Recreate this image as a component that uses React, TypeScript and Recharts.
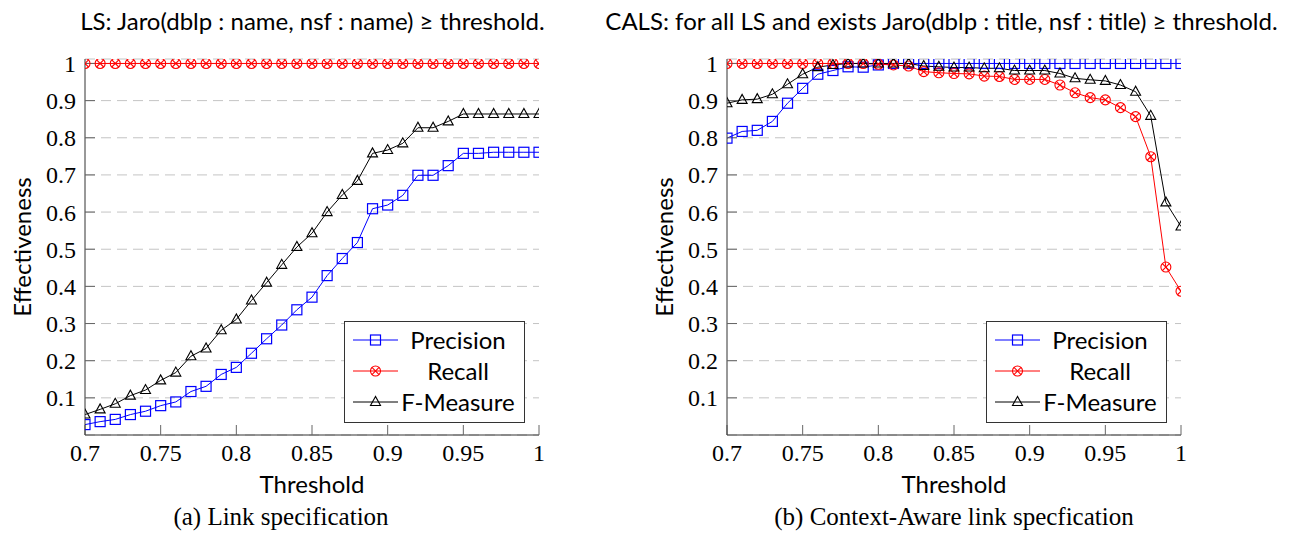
import React from 'react';
import { LineChart, Line, XAxis, YAxis, CartesianGrid, Legend } from 'recharts';

const thresholds = [0.70, 0.71, 0.72, 0.73, 0.74, 0.75, 0.76, 0.77, 0.78, 0.79, 0.80, 0.81, 0.82, 0.83, 0.84, 0.85, 0.86, 0.87, 0.88, 0.89, 0.90, 0.91, 0.92, 0.93, 0.94, 0.95, 0.96, 0.97, 0.98, 0.99, 1.00];

const lsPrecision = [0.028, 0.036, 0.042, 0.055, 0.064, 0.079, 0.089, 0.117, 0.131, 0.163, 0.182, 0.220, 0.259, 0.296, 0.337, 0.371, 0.429, 0.475, 0.518, 0.609, 0.619, 0.645, 0.699, 0.699, 0.725, 0.758, 0.758, 0.761, 0.761, 0.761, 0.761];
const lsRecall = [1, 1, 1, 1, 1, 1, 1, 1, 1, 1, 1, 1, 1, 1, 1, 1, 1, 1, 1, 1, 1, 1, 1, 1, 1, 1, 1, 1, 1, 1, 1];
const lsFMeasure = [0.055, 0.069, 0.084, 0.106, 0.121, 0.147, 0.168, 0.212, 0.233, 0.282, 0.311, 0.362, 0.410, 0.458, 0.506, 0.543, 0.600, 0.646, 0.684, 0.758, 0.767, 0.785, 0.827, 0.827, 0.844, 0.864, 0.864, 0.864, 0.864, 0.864, 0.864];

const calsPrecision = [0.799, 0.817, 0.820, 0.844, 0.893, 0.933, 0.971, 0.981, 0.991, 0.990, 0.996, 1, 1, 1, 1, 1, 1, 1, 1, 1, 1, 1, 1, 1, 1, 1, 1, 1, 1, 1, 1];
const calsRecall = [1, 1, 1, 1, 1, 1, 1, 1, 1, 1, 0.998, 0.996, 0.993, 0.978, 0.975, 0.973, 0.972, 0.966, 0.965, 0.957, 0.957, 0.957, 0.942, 0.921, 0.908, 0.902, 0.881, 0.857, 0.749, 0.452, 0.387];
const calsFMeasure = [0.893, 0.902, 0.904, 0.917, 0.944, 0.971, 0.990, 0.996, 1, 1, 1, 1, 1, 0.993, 0.991, 0.989, 0.989, 0.987, 0.987, 0.981, 0.981, 0.981, 0.973, 0.960, 0.956, 0.953, 0.942, 0.924, 0.859, 0.626, 0.561];

const xTicks = [0.7, 0.75, 0.8, 0.85, 0.9, 0.95, 1];
const yTicks = [0.1, 0.2, 0.3, 0.4, 0.5, 0.6, 0.7, 0.8, 0.9, 1];

const seriesNames = ['Precision', 'Recall', 'F-Measure'];
const panelTitles = [
  'LS: Jaro(dblp : name, nsf : name) \u2265 threshold.',
  'CALS: for all LS and exists Jaro(dblp : title, nsf : title) \u2265 threshold.',
];
const panelCaptions = ['(a) Link specification', '(b) Context-Aware link specfication'];
const xLabel = 'Threshold';
const yLabel = 'Effectiveness';

const BLUE = '#0000ff';
const RED = '#ff0000';
const BLACK = '#000000';
const FRAME = '#333333';
const SANS = 'Lato, "Open Sans", sans-serif';
const SERIF = '"Liberation Serif", "DejaVu Serif", serif';

const buildData = (p: number[], r: number[], f: number[]) =>
  thresholds.map((t, i) => ({ t, precision: p[i], recall: r[i], fmeasure: f[i] }));

const lsData = buildData(lsPrecision, lsRecall, lsFMeasure);
const calsData = buildData(calsPrecision, calsRecall, calsFMeasure);

const SquareMark = ({ cx, cy }: { cx: number; cy: number }) => (
  <rect x={cx - 5} y={cy - 5} width={10} height={10} fill="none" stroke={BLUE} strokeWidth={1.2} />
);
const OtimesMark = ({ cx, cy }: { cx: number; cy: number }) => {
  const r = 5;
  const d = r * 0.7071;
  return (
    <g stroke={RED} strokeWidth={1.1} fill="none">
      <circle cx={cx} cy={cy} r={r} />
      <line x1={cx - d} y1={cy - d} x2={cx + d} y2={cy + d} />
      <line x1={cx - d} y1={cy + d} x2={cx + d} y2={cy - d} />
    </g>
  );
};
const TriMark = ({ cx, cy }: { cx: number; cy: number }) => (
  <polygon
    points={`${cx},${cy - 5.5} ${cx - 5},${cy + 3.5} ${cx + 5},${cy + 3.5}`}
    fill="none"
    stroke={BLACK}
    strokeWidth={1.1}
  />
);

const legendItems = [
  { label: seriesNames[0], color: BLUE, Mark: SquareMark },
  { label: seriesNames[1], color: RED, Mark: OtimesMark },
  { label: seriesNames[2], color: BLACK, Mark: TriMark },
];

const LegendBox = () => (
  <div style={{ width: 181, height: 102, border: `1px solid ${FRAME}`, background: '#fff', boxSizing: 'border-box' }}>
    <svg width={179} height={100} style={{ display: 'block' }}>
      {legendItems.map((it, i) => {
        const y = 18 + i * 31;
        const M = it.Mark;
        return (
          <g key={it.label}>
            <line x1={8} x2={53} y1={y} y2={y} stroke={it.color} strokeWidth={1} />
            <M cx={30.5} cy={y} />
            <text x={113} y={y + 8.5} textAnchor="middle" fontFamily={SANS} fontSize={24} fill="#000">
              {it.label}
            </text>
          </g>
        );
      })}
    </svg>
  </div>
);

type PanelProps = {
  data: typeof lsData;
  left: number;
  width: number;
  marginLeft: number;
  marginRight: number;
  legendLeft: number;
};

const tickFont = { fontFamily: SERIF, fontSize: 24, fill: '#000' };

const Panel = ({ data, left, width, marginLeft, marginRight, legendLeft }: PanelProps) => (
  <div style={{ position: 'absolute', left, top: 0, width, height: 533 }}>
    <LineChart width={width} height={533} data={data} margin={{ top: 59, right: marginRight, bottom: 68, left: marginLeft }}>
      <CartesianGrid vertical={false} stroke="#c4c4c4" strokeDasharray="10 6" />
      <XAxis
        xAxisId={0}
        type="number"
        dataKey="t"
        domain={[0.7, 1]}
        allowDataOverflow
        ticks={xTicks}
        interval={0}
        tickFormatter={(v: number) => String(v)}
        tickSize={-10}
        tickMargin={19}
        height={30}
        axisLine={{ stroke: FRAME }}
        tickLine={{ stroke: '#666' }}
        tick={tickFont}
        label={{ value: xLabel, position: 'bottom', offset: 11, style: { fontFamily: SANS, fontSize: 24, fill: '#000' } }}
      />
      <XAxis
        xAxisId="top"
        orientation="top"
        type="number"
        dataKey="t"
        domain={[0.7, 1]}
        allowDataOverflow
        ticks={xTicks}
        interval={0}
        tickSize={-10}
        height={0}
        tick={false}
        axisLine={{ stroke: FRAME }}
        tickLine={{ stroke: '#666' }}
      />
      <YAxis
        yAxisId={0}
        type="number"
        domain={[0, 1.012]}
        allowDataOverflow
        ticks={yTicks}
        interval={0}
        tickFormatter={(v: number) => String(v)}
        tickSize={-10}
        tickMargin={19}
        width={40}
        axisLine={{ stroke: FRAME }}
        tickLine={{ stroke: '#666' }}
        tick={tickFont}
        label={{
          value: yLabel,
          angle: -90,
          position: 'insideLeft',
          offset: -23,
          style: { fontFamily: SANS, fontSize: 24, fill: '#000', textAnchor: 'middle' },
        }}
      />
      <YAxis
        yAxisId="right"
        orientation="right"
        type="number"
        domain={[0, 1.012]}
        allowDataOverflow
        ticks={yTicks}
        interval={0}
        tickSize={-10}
        width={0}
        tick={false}
        axisLine={{ stroke: FRAME }}
        tickLine={{ stroke: '#666' }}
      />
      <Line
        type="linear"
        dataKey="precision"
        name={seriesNames[0]}
        stroke={BLUE}
        strokeWidth={1}
        isAnimationActive={false}
        dot={(p: any) => <SquareMark key={`p${p.index}`} cx={p.cx} cy={p.cy} />}
        activeDot={false}
      />
      <Line
        type="linear"
        dataKey="recall"
        name={seriesNames[1]}
        stroke={RED}
        strokeWidth={1}
        isAnimationActive={false}
        dot={(p: any) => <OtimesMark key={`r${p.index}`} cx={p.cx} cy={p.cy} />}
        activeDot={false}
      />
      <Line
        type="linear"
        dataKey="fmeasure"
        name={seriesNames[2]}
        stroke={BLACK}
        strokeWidth={1}
        isAnimationActive={false}
        dot={(p: any) => <TriMark key={`f${p.index}`} cx={p.cx} cy={p.cy} />}
        activeDot={false}
      />
      <Legend
        layout="vertical"
        align="center"
        verticalAlign="middle"
        wrapperStyle={{ left: legendLeft, top: 321, width: 181, height: 102 }}
        content={() => <LegendBox />}
      />
    </LineChart>
  </div>
);

export default function App() {
  return (
    <div style={{ position: 'absolute', left: 0, top: 0, width: 1306, height: 533, background: '#fff', overflow: 'hidden' }}>
      <Panel data={lsData} left={0} width={640} marginLeft={45} marginRight={101} legendLeft={344} />
      <Panel data={calsData} left={640} width={666} marginLeft={47} marginRight={125} legendLeft={346} />
      <svg width={1306} height={533} style={{ position: 'absolute', left: 0, top: 0, pointerEvents: 'none' }}>
        <text x={312.5} y={30} textAnchor="middle" fontFamily={SANS} fontSize={24} fill="#000">{panelTitles[0]}</text>
        <text x={941.5} y={30} textAnchor="middle" fontFamily={SANS} fontSize={24} fill="#000">{panelTitles[1]}</text>
        <text x={281} y={525} textAnchor="middle" fontFamily={SERIF} fontSize={25} fill="#000">{panelCaptions[0]}</text>
        <text x={954} y={525} textAnchor="middle" fontFamily={SERIF} fontSize={25} fill="#000">{panelCaptions[1]}</text>
      </svg>
    </div>
  );
}
